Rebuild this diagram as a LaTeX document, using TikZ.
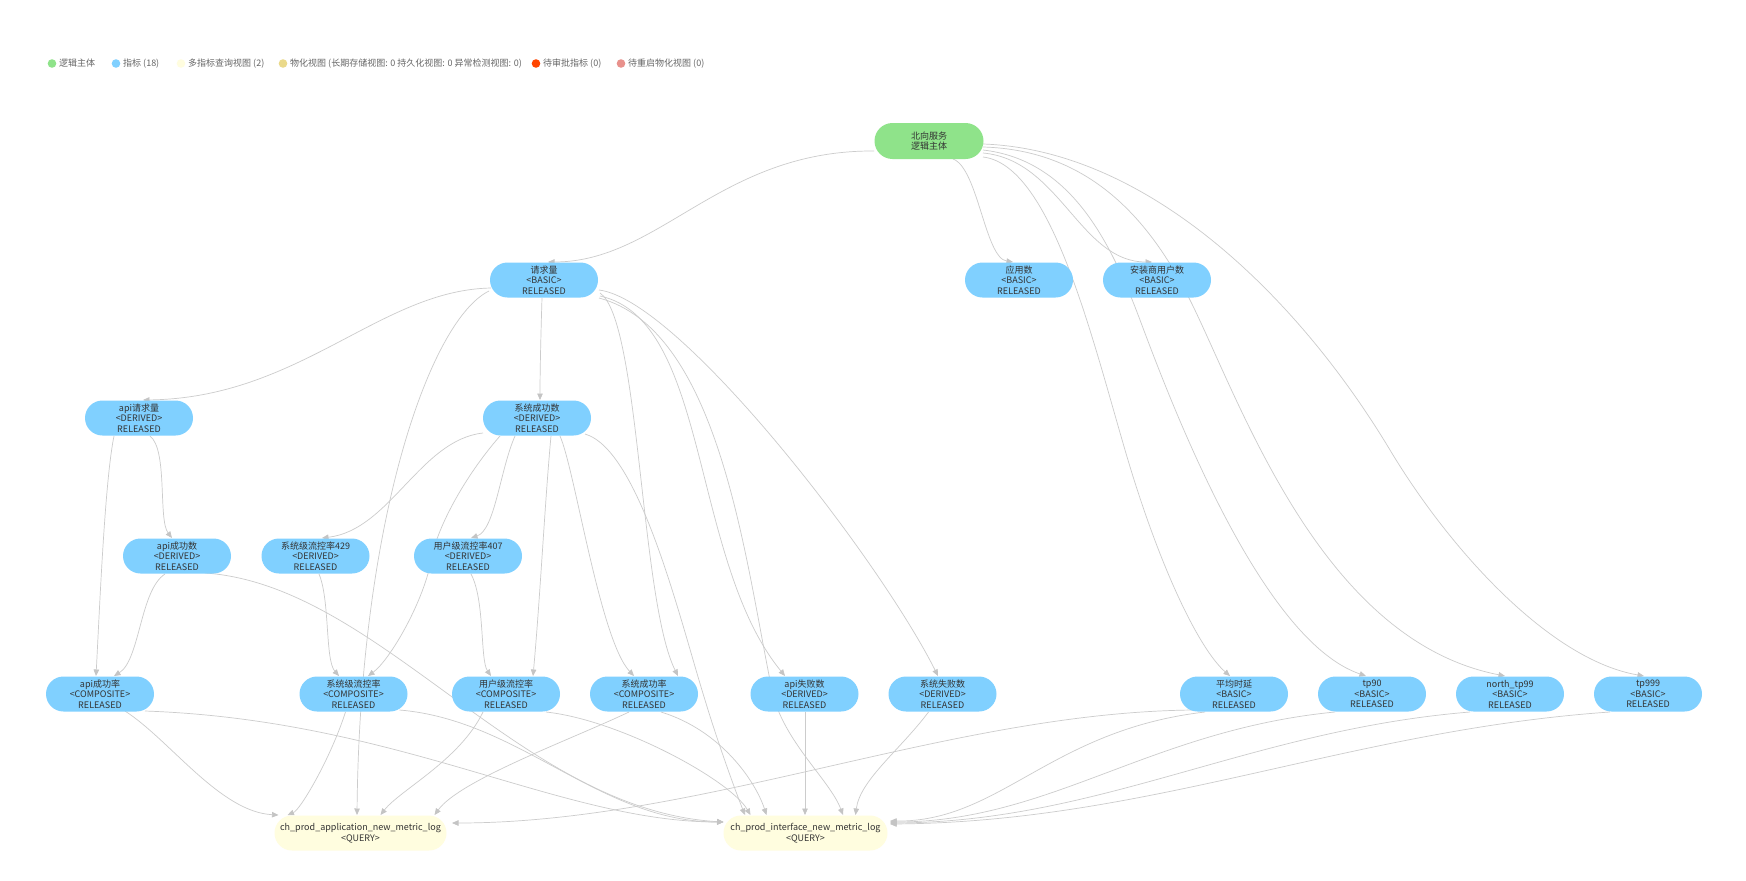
\documentclass[tikz,border=0pt]{standalone}
\usepackage{fontspec}
\setmainfont{Noto Sans CJK SC}
\usetikzlibrary{arrows.meta}
\definecolor{txt}{HTML}{333333}
\definecolor{legtxt}{HTML}{666666}
\definecolor{metricblue}{HTML}{80D0FF}
\definecolor{entgreen}{HTML}{8FE38A}
\definecolor{queryyellow}{HTML}{FFFDDF}
\definecolor{mattan}{HTML}{EAD98A}
\definecolor{pendred}{HTML}{FF4500}
\definecolor{restartpink}{HTML}{E8918C}
\definecolor{edgegray}{HTML}{CCCCCC}
\definecolor{tipgray}{HTML}{C4C4C4}
\tikzset{
  mnode/.style={rectangle, rounded corners=17.5pt, minimum width=108pt, minimum height=35pt,
    inner sep=0pt, align=center, font=\fontsize{9}{10.5}\selectfont, text=txt},
  metric/.style={mnode, fill=metricblue},
  entity/.style={mnode, fill=entgreen, minimum width=109pt, minimum height=36pt, rounded corners=18pt},
  query/.style={mnode, fill=queryyellow},
  edge/.style={draw=edgegray, line width=0.7pt, -{Triangle[length=6.5pt,width=5.5pt,color=tipgray]}},
  legdot/.style={circle, inner sep=0pt, minimum size=8.6pt},
  legtext/.style={anchor=west, inner sep=0pt, font=\fontsize{9}{10}\selectfont, text=legtxt},
}
\begin{document}
\begin{tikzpicture}[x=1pt, y=-1pt]
\useasboundingbox (0,0) rectangle (1746,881);
\fill[white] (0,0) rectangle (1746,881);

% legend
\node[legdot, fill=entgreen] (l1) at (52,63.5) {};
\node[legtext] (t1) at (59,63.5) {逻辑主体};
\node[legdot, fill=metricblue] (l2) at (116,63.5) {};
\node[legtext] (t2) at (123,63.5) {指标 (18)};
\node[legdot, fill=queryyellow] (l3) at (181,63.5) {};
\node[legtext] (t3) at (188,63.5) {多指标查询视图 (2)};
\node[legdot, fill=mattan] (l4) at (283,63.5) {};
\node[legtext] (t4) at (290,63.5) {物化视图 (长期存储视图: 0 持久化视图: 0 异常检测视图: 0)};
\node[legdot, fill=pendred] (l5) at (536,63.5) {};
\node[legtext] (t5) at (543,63.5) {待审批指标 (0)};
\node[legdot, fill=restartpink] (l6) at (621,63.5) {};
\node[legtext] (t6) at (628,63.5) {待重启物化视图 (0)};

% node centres
\path
  (929,141) coordinate (cbx)
  (544,280) coordinate (cqq)
  (1019,280) coordinate (cyy)
  (1157,280) coordinate (caz)
  (139,418) coordinate (caq)
  (537,418) coordinate (cxc)
  (177,556) coordinate (cac)
  (315.5,556) coordinate (cx429)
  (468,556) coordinate (cy407)
  (100,694) coordinate (cacr)
  (353.5,694) coordinate (cxl)
  (506,694) coordinate (cyl)
  (644,694) coordinate (cxcr)
  (804.5,694) coordinate (caf)
  (942.5,694) coordinate (cxf)
  (1234,694) coordinate (cpj)
  (1372,694) coordinate (ct90)
  (1510,694) coordinate (ct99)
  (1648,694) coordinate (ct999)
  (360.5,833) coordinate (cqa)
  (805.5,833) coordinate (cqi);

% edges
% from entity
\draw[edge] ([shift={(-55,10)}]cbx) .. controls (720,150) and (660,262) .. ([shift={(4,-18)}]cqq);
\draw[edge] ([shift={(24,18)}]cbx) .. controls (978,168) and (985,258) .. ([shift={(-6,-18)}]cyy);
\draw[edge] ([shift={(54,12)}]cbx) .. controls (1060,160) and (1080,262) .. ([shift={(-5,-18)}]caz);
\draw[edge] ([shift={(54,16)}]cbx) .. controls (1050,165) and (1090,330) .. (1125,450) .. controls (1160,570) and (1200,650) .. ([shift={(-4,-18)}]cpj);
\draw[edge] ([shift={(54,9)}]cbx) .. controls (1070,160) and (1110,240) .. (1140,320) .. controls (1170,400) and (1260,640) .. ([shift={(-6,-18)}]ct90);
\draw[edge] ([shift={(54,6)}]cbx) .. controls (1090,150) and (1150,220) .. (1190,300) .. controls (1240,400) and (1320,640) .. ([shift={(-5,-18)}]ct99);
\draw[edge] ([shift={(54,3)}]cbx) .. controls (1150,150) and (1300,300) .. (1390,450) .. controls (1450,550) and (1550,660) .. ([shift={(-4,-18)}]ct999);
% from 请求量
\draw[edge] ([shift={(-53,8)}]cqq) .. controls (380,290) and (300,398) .. ([shift={(4,-18)}]caq);
\draw[edge] ([shift={(-55,11)}]cqq) .. controls (430,320) and (360,520) .. ([shift={(-3.5,-18)}]cqa);
\draw[edge] ([shift={(-2,18)}]cqq) .. controls (541,330) and (540,370) .. ([shift={(3,-18)}]cxc);
\draw[edge] ([shift={(56,13)}]cqq) .. controls (640,320) and (640,600) .. ([shift={(34,-18)}]cxcr);
\draw[edge] ([shift={(56,16)}]cqq) .. controls (710,320) and (690,560) .. ([shift={(-19.5,-18)}]caf);
\draw[edge] ([shift={(55,18)}]cqq) .. controls (720,330) and (745,560) .. (772,690) .. controls (782,740) and (830,780) .. ([shift={(37.5,-18)}]cqi);
\draw[edge] ([shift={(55,10)}]cqq) .. controls (680,300) and (880,560) .. ([shift={(-4.5,-18)}]cxf);
% from 系统成功数
\draw[edge] ([shift={(-54,15)}]cxc) .. controls (420,440) and (390,530) .. ([shift={(6.5,-18)}]cx429);
\draw[edge] ([shift={(-22,18)}]cxc) .. controls (500,470) and (495,530) .. ([shift={(3,-18)}]cy407);
\draw[edge] ([shift={(-37,18)}]cxc) .. controls (470,470) and (440,520) .. (432,556) .. controls (425,600) and (390,660) .. ([shift={(14.5,-18)}]cxl);
\draw[edge] ([shift={(14,18)}]cxc) .. controls (545,500) and (540,600) .. ([shift={(27,-18)}]cyl);
\draw[edge] ([shift={(23,18)}]cxc) .. controls (575,470) and (600,640) .. ([shift={(-10,-18)}]cxcr);
\draw[edge] ([shift={(48,16)}]cxc) .. controls (640,450) and (680,620) .. (705,700) .. controls (717,740) and (735,790) .. ([shift={(-60.5,-18)}]cqi);
% from api请求量
\draw[edge] ([shift={(-25,18)}]caq) .. controls (105,480) and (100,600) .. ([shift={(-4,-18)}]cacr);
\draw[edge] ([shift={(11,18)}]caq) .. controls (168,450) and (158,520) .. ([shift={(-5,-18)}]cac);
% from api成功数
\draw[edge] ([shift={(-12,18)}]cac) .. controls (140,590) and (140,660) .. ([shift={(14,-18)}]cacr);
\draw[edge] ([shift={(28,17)}]cac) .. controls (380,585) and (520,810) .. ([shift={(-82,-11)}]cqi);
% from 429 / 407
\draw[edge] ([shift={(3.5,18)}]cx429) .. controls (330,600) and (325,660) .. ([shift={(-14.5,-18)}]cxl);
\draw[edge] ([shift={(3,18)}]cy407) .. controls (485,600) and (480,660) .. ([shift={(-15,-18)}]cyl);
% row 4 to queries
\draw[edge] ([shift={(25,17)}]cacr) .. controls (170,740) and (220,812) .. ([shift={(-82,-18)}]cqa);
\draw[edge] ([shift={(45,17)}]cacr) .. controls (400,720) and (560,822) .. ([shift={(-82,-11)}]cqi);
\draw[edge] ([shift={(-8,18)}]cxl) .. controls (330,760) and (300,810) .. ([shift={(-73,-18)}]cqa);
\draw[edge] ([shift={(46,16)}]cxl) .. controls (520,720) and (600,822) .. ([shift={(-82,-11)}]cqi);
\draw[edge] ([shift={(-23,18)}]cyl) .. controls (460,760) and (400,790) .. ([shift={(20,-18)}]cqa);
\draw[edge] ([shift={(40,18)}]cyl) .. controls (620,720) and (730,780) .. ([shift={(-55,-18)}]cqi);
\draw[edge] ([shift={(-15,18)}]cxcr) .. controls (570,740) and (460,780) .. ([shift={(74,-18)}]cqa);
\draw[edge] ([shift={(17,18)}]cxcr) .. controls (720,730) and (755,780) .. ([shift={(-39,-18)}]cqi);
\draw[edge] ([shift={(0.5,18)}]caf) -- ([shift={(-0.5,-18)}]cqi);
\draw[edge] ([shift={(-14,18)}]cxf) .. controls (900,750) and (860,780) .. ([shift={(50,-18)}]cqi);
\draw[edge] ([shift={(-40,16)}]cpj) .. controls (950,712) and (700,823) .. ([shift={(91.5,-10)}]cqa);
\draw[edge] ([shift={(-29,18)}]cpj) .. controls (1050,730) and (1000,822) .. ([shift={(84.5,-12)}]cqi);
\draw[edge] ([shift={(-37,18)}]ct90) .. controls (1150,730) and (1050,822) .. ([shift={(84.5,-11)}]cqi);
\draw[edge] ([shift={(-40,18)}]ct99) .. controls (1250,730) and (1100,822) .. ([shift={(84.5,-10)}]cqi);
\draw[edge] ([shift={(-38,18)}]ct999) .. controls (1350,730) and (1150,822) .. ([shift={(84.5,-9)}]cqi);

% nodes
\node[entity] (bx) at (cbx) {北向服务\\逻辑主体};
\node[metric] (qq) at (cqq) {请求量\\<BASIC>\\RELEASED};
\node[metric] (yy) at (cyy) {应用数\\<BASIC>\\RELEASED};
\node[metric] (az) at (caz) {安装商用户数\\<BASIC>\\RELEASED};
\node[metric] (aq) at (caq) {api请求量\\<DERIVED>\\RELEASED};
\node[metric] (xc) at (cxc) {系统成功数\\<DERIVED>\\RELEASED};
\node[metric] (ac) at (cac) {api成功数\\<DERIVED>\\RELEASED};
\node[metric] (x429) at (cx429) {系统级流控率429\\<DERIVED>\\RELEASED};
\node[metric] (y407) at (cy407) {用户级流控率407\\<DERIVED>\\RELEASED};
\node[metric] (acr) at (cacr) {api成功率\\<COMPOSITE>\\RELEASED};
\node[metric] (xl) at (cxl) {系统级流控率\\<COMPOSITE>\\RELEASED};
\node[metric] (yl) at (cyl) {用户级流控率\\<COMPOSITE>\\RELEASED};
\node[metric] (xcr) at (cxcr) {系统成功率\\<COMPOSITE>\\RELEASED};
\node[metric] (af) at (caf) {api失败数\\<DERIVED>\\RELEASED};
\node[metric] (xf) at (cxf) {系统失败数\\<DERIVED>\\RELEASED};
\node[metric] (pj) at (cpj) {平均时延\\<BASIC>\\RELEASED};
\node[metric] (t90) at (ct90) {tp90\\<BASIC>\\RELEASED};
\node[metric] (t99) at (ct99) {north\_tp99\\<BASIC>\\RELEASED};
\node[metric] (t999) at (ct999) {tp999\\<BASIC>\\RELEASED};
\node[query, minimum width=172pt] (qa) at (cqa) {ch\_prod\_application\_new\_metric\_log\\<QUERY>};
\node[query, minimum width=164pt] (qi) at (cqi) {ch\_prod\_interface\_new\_metric\_log\\<QUERY>};
\end{tikzpicture}
\end{document}
